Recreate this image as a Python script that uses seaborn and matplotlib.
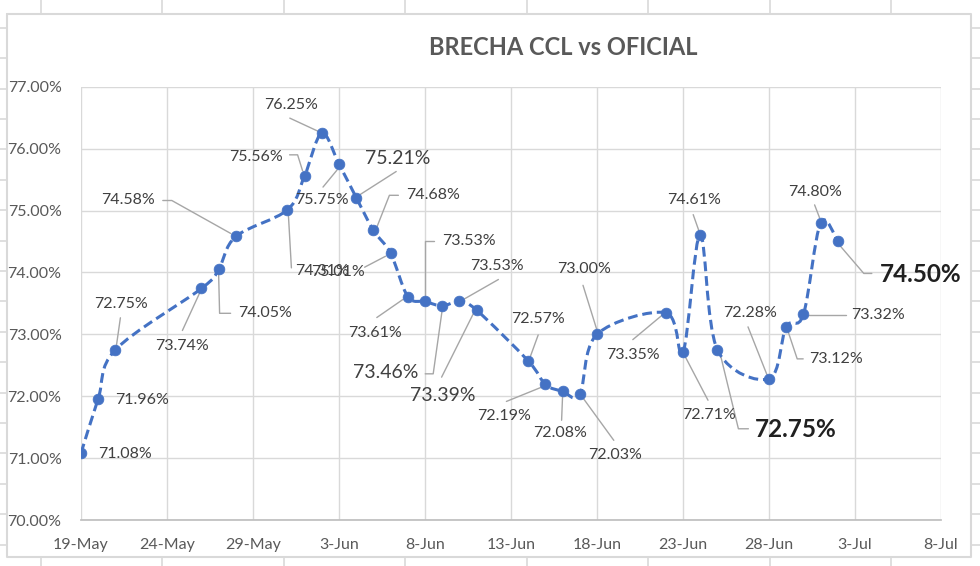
import numpy as np
import pandas as pd
import matplotlib
matplotlib.use("Agg")
import matplotlib.pyplot as plt
import matplotlib.dates as mdates
from matplotlib.path import Path
from matplotlib.patches import PathPatch
from matplotlib.lines import Line2D
import seaborn as sns

# ---------------- data ----------------
dates = ["2021-05-19", "2021-05-20", "2021-05-21", "2021-05-26", "2021-05-27",
         "2021-05-28", "2021-05-31", "2021-06-01", "2021-06-02", "2021-06-03",
         "2021-06-04", "2021-06-05", "2021-06-06", "2021-06-07", "2021-06-08",
         "2021-06-09", "2021-06-10", "2021-06-11", "2021-06-14", "2021-06-15",
         "2021-06-16", "2021-06-17", "2021-06-18", "2021-06-22", "2021-06-23",
         "2021-06-24", "2021-06-25", "2021-06-28", "2021-06-29", "2021-06-30",
         "2021-07-01", "2021-07-02"]
values = [71.08, 71.96, 72.75, 73.74, 74.05, 74.58, 75.01, 75.56, 76.25, 75.75,
          75.21, 74.68, 74.31, 73.61, 73.53, 73.46, 73.53, 73.39, 72.57, 72.19,
          72.08, 72.03, 73.00, 73.35, 72.71, 74.61, 72.75, 72.28, 73.12, 73.32,
          74.80, 74.50]
x_ticks = ["2021-05-19", "2021-05-24", "2021-05-29", "2021-06-03", "2021-06-08",
           "2021-06-13", "2021-06-18", "2021-06-23", "2021-06-28", "2021-07-03",
           "2021-07-08"]
y_ticks = [70, 71, 72, 73, 74, 75, 76, 77]
title = "BRECHA CCL vs OFICIAL"

# ---------------- label placement (pixel offsets from each point, y down) ----
label_offsets = [(44, 1), (44, 1), (6, -46), (-19, 58), (46, 44), (-108, -36),
                 (51, 62), (-49, -19), (-31, -28), (-17, 36), (41, -39),
                 (60, -35), (-69, 18), (-33, 36), (44, -60), (-57, 67),
                 (38, -35), (-34, 85), (10, -42), (-41, 32), (-3, 42),
                 (35, 61), (-13, -65), (-33, 42), (26, 63), (-6, -35),
                 (78, 80), (-19, -66), (50, 32), (75, 1), (-6, -31), (83, 33)]
label_kind = ["n"] * 32
for i in (10, 15, 17):
    label_kind[i] = "l"
for i in (26, 31):
    label_kind[i] = "b"
leaders = [None, None,
           [(5, -32), (1, -4)],
           [(-19, 42), (-2, 5)],
           [(12, 44), (1, 44), (0, 4)],
           [(-73, -36), (-64, -36), (-5, -3)],
           [(4, 58), (1, 5)],
           [(-15, -21), (-7, -21), (-2, -5)],
           [(-32, -15), (-4, -2)],
           [(-16, 23), (-2, 6)],
           [(40, -26), (4, -3)],
           [(25, -35), (16, -35), (3, -2)],
           [(-26, 14), (-5, 3)],
           [(-31, 21), (-5, 3)],
           [(9, -60), (0, -60), (0, -5)],
           [(-17, 68), (-9, 68), (0, 4)],
           [(39, -22), (4, -2)],
           [(-35, 67), (-3, 3)],
           [(10, -26), (2, -4)],
           [(-39, 17), (-2, 2)],
           [(-1, 29), (0, 4)],
           [(34, 46), (2, 2)],
           [(-14, -49), (0, -4)],
           [(-33, 27), (-3, 2)],
           [(25, 48), (2, 4)],
           [(-7, -20), (-1, -3)],
           [(31, 79), (21, 79), (3, 5)],
           [(-21, -52), (-2, -4)],
           [(17, 32), (11, 32), (2, 5)],
           [(43, 1), (5, 1)],
           [(-6, -18), (-1, -5)],
           [(34, 32), (26, 32), (2, 4)]]

# ---------------- figure ----------------
W, H = 980, 566
sns.set_theme(style="white")
plt.rcParams["font.family"] = ["Lato", "DejaVu Sans"]

fig = plt.figure(figsize=(W / 100, H / 100), dpi=100)
ax = fig.add_axes([81 / W, 46 / H, 860 / W, 433.3 / H])

df = pd.DataFrame({"date": pd.to_datetime(dates), "value": values})
xnum = mdates.date2num(df["date"])
yv = np.array(values)

blue = "#4472C4"
grid_c = "#D9D9D9"
txt_c = "#404040"
tick_c = "#595959"

# smooth dashed line (Excel-like smoothing via cubic Bezier segments)
pts = np.column_stack([xnum, yv])
verts = [tuple(pts[0])]
codes = [Path.MOVETO]
n = len(pts)
for i in range(n - 1):
    p0 = pts[i - 1] if i > 0 else pts[i]
    p1 = pts[i]
    p2 = pts[i + 1]
    p3 = pts[i + 2] if i + 2 < n else pts[i + 1]
    c1 = p1 + (p2 - p0) / 6.0
    c2 = p2 - (p3 - p1) / 6.0
    verts += [tuple(c1), tuple(c2), tuple(p2)]
    codes += [Path.CURVE4] * 3
patch = PathPatch(Path(verts, codes), fill=False, edgecolor=blue, lw=2.2,
                  linestyle=(0, (3.2, 1.6)), zorder=3)
ax.add_patch(patch)

sns.scatterplot(data=df, x="date", y="value", color=blue, s=60,
                edgecolor=blue, linewidth=0.5, zorder=4, ax=ax, legend=False)

xt = mdates.date2num(pd.to_datetime(x_ticks))
ax.set_xlim(xt[0], xt[-1])
ax.set_ylim(70, 77)
ax.set_xticks(xt)
ax.set_xticklabels([pd.Timestamp(d).strftime("%-d-%b") for d in x_ticks])
ax.set_yticks(y_ticks)
ax.set_yticklabels([f"{v:.2f}%" for v in y_ticks])
ax.grid(True, color=grid_c, lw=1.0)
ax.set_axisbelow(True)
for s in ax.spines.values():
    s.set_visible(False)
ax.spines["bottom"].set_visible(True)
ax.spines["bottom"].set_color("#BFBFBF")
ax.tick_params(axis="both", length=0, labelsize=11.5, colors=tick_c)
ax.tick_params(axis="x", pad=13)
ax.tick_params(axis="y", pad=14)
ax.set_xlabel("")
ax.set_ylabel("")

# labels & leaders
fig.canvas.draw()
inv = ax.transData.inverted()


def off(i, dx, dy):
    d = ax.transData.transform((xnum[i], yv[i]))
    return inv.transform((d[0] + dx, d[1] - dy))


sizes = {"n": (11.5, "normal"), "l": (14, "normal"), "b": (17.5, "bold")}
for i in range(n):
    lx, ly = off(i, *label_offsets[i])
    fs, fw = sizes[label_kind[i]]
    col = txt_c if label_kind[i] != "b" else "#202020"
    ax.text(lx, ly, f"{values[i]:.2f}%", ha="center", va="center",
            fontsize=fs, fontweight=fw, color=col, zorder=5, clip_on=False)
    if leaders[i]:
        xy = np.array([off(i, a, b) for a, b in leaders[i]])
        ax.plot(xy[:, 0], xy[:, 1], color="#A6A6A6", lw=1.0, zorder=2,
                clip_on=False)

# title
fig.text(563.5 / W, 1 - 47.5 / H, title, ha="center", va="center",
         fontsize=17, fontweight="bold", color=tick_c)

# chart border and spreadsheet gridline stubs
border_c = "#D9D9D9"
fig.add_artist(Line2D([7 / W, 971 / W, 971 / W, 7 / W, 7 / W],
                      [1 - 14 / H, 1 - 14 / H, 1 - 557 / H, 1 - 557 / H, 1 - 14 / H],
                      color=border_c, lw=1.5))
for k in range(18):
    yy = 1 - (27.8 + 30.4 * k) / H
    fig.add_artist(Line2D([0, 7 / W], [yy, yy], color=border_c, lw=1.2))
    fig.add_artist(Line2D([971 / W, 1], [yy, yy], color=border_c, lw=1.2))
for k in range(8):
    xx = (40.5 + 121.5 * k) / W
    fig.add_artist(Line2D([xx, xx], [1, 1 - 14 / H], color=border_c, lw=1.2))
    fig.add_artist(Line2D([xx, xx], [1 - 557 / H, 0], color=border_c, lw=1.2))

fig.savefig("out.png", dpi=100, facecolor="white")
